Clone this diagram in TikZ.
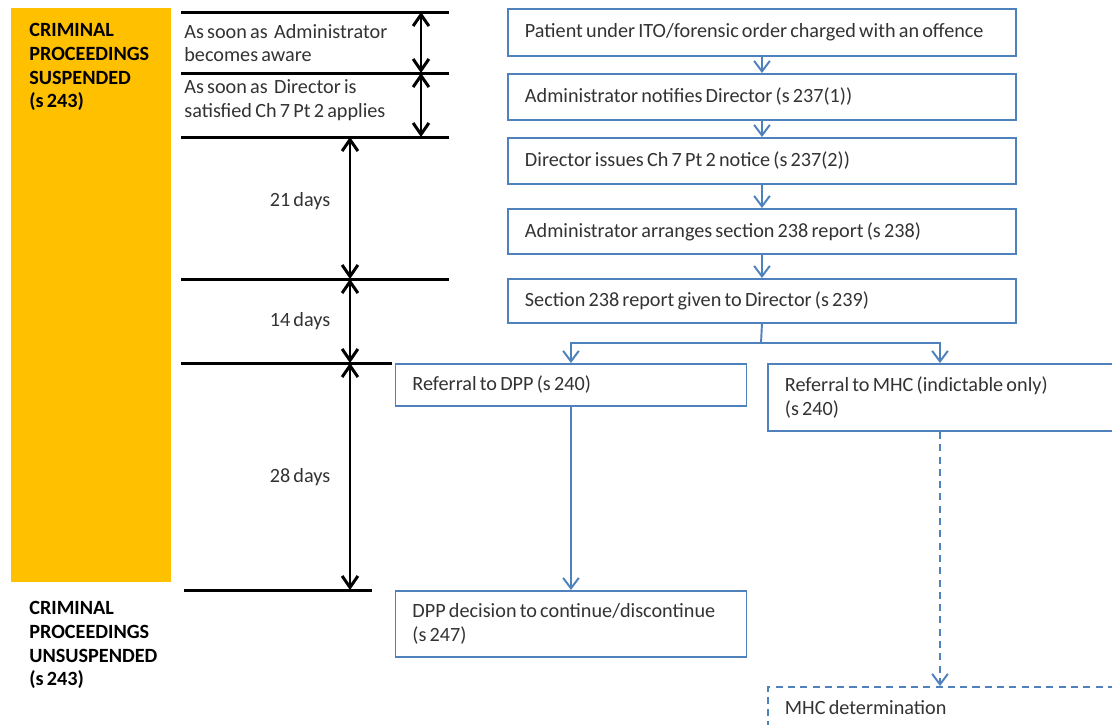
\documentclass[tikz,border=0pt]{standalone}
\usepackage{fontspec}
\setmainfont{Carlito}[WordSpace=0.7]
\usetikzlibrary{arrows.meta,positioning}
\definecolor{obox}{HTML}{FFC000}
\definecolor{bline}{HTML}{4F81BD}
\definecolor{txt}{HTML}{333333}
\tikzset{
  bbox/.style={draw=bline, line width=1.1pt, fill=white, anchor=north west, align=flush left,
    inner xsep=0.34cm, inner ysep=0pt, text=txt, font=\fontsize{11.5}{13.6}\selectfont},
  dbox/.style={bbox, dashed, dash pattern=on 4pt off 3pt},
  barrow/.style={draw=bline, line width=1.1pt, -{Straight Barb[length=6pt,width=9pt]}},
  darrow/.style={barrow, dash pattern=on 4pt off 3pt},
  tline/.style={line width=1.7pt, black},
  karrow/.style={line width=1.7pt, black, {Straight Barb[length=6.5pt,width=9pt]}-{Straight Barb[length=6.5pt,width=9pt]}},
  lbl/.style={inner sep=0pt, text=txt, align=left, font=\fontsize{11.5}{13.6}\selectfont},
  blbl/.style={inner sep=0pt, text=black, align=left, font=\fontsize{11.5}{13.6}\selectfont\bfseries},
}
\begin{document}
\begin{tikzpicture}
\clip (0,0) rectangle (22.24,-14.48);
\fill[white] (0,0) rectangle (22.24,-14.48);
% orange band
\fill[obox] (0.22,-0.16) rectangle (3.42,-11.64);
\node[blbl, anchor=west] (susp) at (0.58,-1.34) {CRIMINAL\\PROCEEDINGS\\SUSPENDED\\(s 243)};
\node[blbl, anchor=west] (unsusp) at (0.58,-12.9) {CRIMINAL\\PROCEEDINGS\\UNSUSPENDED\\(s 243)};
% timeline lines
\coordinate (l1a) at (3.62,-0.24); \coordinate (l1b) at (8.98,-0.24);
\coordinate (l2a) at (3.62,-1.46); \coordinate (l2b) at (8.98,-1.46);
\coordinate (l3a) at (3.62,-2.74); \coordinate (l3b) at (8.98,-2.74);
\coordinate (l4a) at (3.62,-5.58); \coordinate (l4b) at (8.98,-5.58);
\coordinate (l5a) at (3.62,-7.26); \coordinate (l5b) at (7.84,-7.26);
\coordinate (l6a) at (3.68,-11.8); \coordinate (l6b) at (7.44,-11.8);
\draw[tline] (l1a) -- (l1b);
\draw[tline] (l2a) -- (l2b);
\draw[tline] (l3a) -- (l3b);
\draw[tline] (l4a) -- (l4b);
\draw[tline] (l5a) -- (l5b);
\draw[tline] (l6a) -- (l6b);
% double arrows
\coordinate (a1) at (8.42,-0.24); \coordinate (a2) at (8.42,-1.46); \coordinate (a3) at (8.42,-2.74);
\coordinate (c1) at (7.0,-2.74); \coordinate (c2) at (7.0,-5.58); \coordinate (c3) at (7.0,-7.26); \coordinate (c4) at (7.0,-11.8);
\draw[karrow] (a1) -- (a2);
\draw[karrow] (a2) -- (a3);
\draw[karrow] (c1) -- (c2);
\draw[karrow] (c2) -- (c3);
\draw[karrow] (c3) -- (c4);
% timeline labels
\node[lbl, anchor=west] (t1) at (3.68,-0.86) {As soon as\ \ Administrator\\becomes aware};
\node[lbl, anchor=west] (t2) at (3.68,-2.0) {As soon as\ \ Director is\\satisfied Ch 7 Pt 2 applies};
\node[lbl] (d21) at (6.0,-4.02) {21 days};
\node[lbl] (d14) at (6.0,-6.42) {14 days};
\node[lbl] (d28) at (6.0,-9.54) {28 days};
% flow boxes
\node[bbox, minimum width=10.16cm, text width=9.48cm, minimum height=0.94cm] (b1) at (10.14,-0.16) {Patient under ITO/forensic order charged with an offence};
\node[bbox, minimum width=10.16cm, text width=9.48cm, minimum height=0.92cm] (b2) at (10.14,-1.46) {Administrator notifies Director (s 237(1))};
\node[bbox, minimum width=10.16cm, text width=9.48cm, minimum height=0.92cm] (b3) at (10.14,-2.74) {Director issues Ch 7 Pt 2 notice (s 237(2))};
\node[bbox, minimum width=10.16cm, text width=9.48cm, minimum height=0.9cm] (b4) at (10.14,-4.16) {Administrator arranges section 238 report (s 238)};
\node[bbox, minimum width=10.16cm, text width=9.48cm, minimum height=0.88cm] (b5) at (10.14,-5.56) {Section 238 report given to Director (s 239)};
\node[bbox, minimum width=7.02cm, text width=6.34cm, minimum height=0.84cm] (b6) at (7.89,-7.26) {Referral to DPP (s 240)};
\node[bbox, minimum width=7.6cm, text width=6.92cm, minimum height=1.34cm] (b7) at (15.34,-7.26) {Referral to MHC (indictable only)\\(s 240)};
\node[bbox, minimum width=7.02cm, text width=6.34cm, minimum height=1.32cm] (b8) at (7.89,-11.8) {DPP decision to continue/discontinue\\(s 247)};
\node[dbox, minimum width=7.6cm, text width=6.92cm, minimum height=0.84cm] (b9) at (15.34,-13.72) {MHC determination};
% connectors
\draw[barrow] (b1.south) -- (b2.north);
\draw[barrow] (b2.south) -- (b3.north);
\draw[barrow] (b3.south) -- (b4.north);
\draw[barrow] (b4.south) -- (b5.north);
\coordinate (split) at (15.22,-6.86);
\draw[draw=bline, line width=1.1pt] (b5.south) -- (split);
\draw[barrow] (split) -| (b6.north);
\draw[barrow] (split) -| ([xshift=3.46cm]b7.north west);
\draw[barrow] (b6.south) -- (b8.north);
\draw[darrow] ([xshift=3.46cm]b7.south west) -- ([xshift=3.46cm]b9.north west);
\end{tikzpicture}
\end{document}
